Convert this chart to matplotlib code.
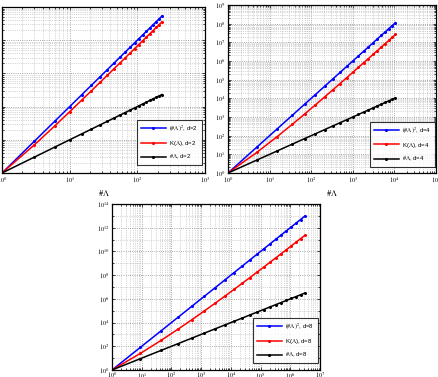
import matplotlib
matplotlib.use("Agg")
import matplotlib.pyplot as plt
from matplotlib.ticker import LogLocator, FixedLocator, NullFormatter

plt.rcParams['font.family'] = ['Liberation Serif', 'DejaVu Serif']
plt.rcParams['mathtext.fontset'] = 'stix'

# ---- data: total-degree index sets, n = 0..20 ----
nL_d2 = [1, 3, 6, 10, 15, 21, 28, 36, 45, 55, 66, 78, 91, 105, 120, 136, 153, 171, 190, 210, 231]
sq_d2 = [1, 9, 36, 100, 225, 441, 784, 1296, 2025, 3025, 4356, 6084, 8281, 11025, 14400,
         18496, 23409, 29241, 36100, 44100, 53361]
K_d2 = [1, 7, 26, 70, 155, 301, 532, 876, 1365, 2035, 2926, 4082, 5551, 7385, 9640,
        12376, 15657, 19551, 24130, 29470, 35651]

nL_d4 = [1, 5, 15, 35, 70, 126, 210, 330, 495, 715, 1001, 1365, 1820, 2380, 3060, 3876,
         4845, 5985, 7315, 8855, 10626]
sq_d4 = [1, 25, 225, 1225, 4900, 15876, 44100, 108900, 245025, 511225, 1002001, 1863225,
         3312400, 5664400, 9363600, 15023376, 23474025, 35820225, 53509225, 78411025, 112911876]
K_d4 = [1, 13, 87, 403, 1462, 4446, 11826, 28314, 62271, 127699, 246961, 454389, 800956,
        1360204, 2235636, 3569796, 5555277, 8447913, 12582427, 18390823, 26423826]

nL_d8 = [1, 9, 45, 165, 495, 1287, 3003, 6435, 12870, 24310, 43758, 75582, 125970, 203490,
         319770, 490314, 735471, 1081575, 1562275, 2220075, 3108105]
sq_d8 = [1, 81, 2025, 27225, 245025, 1656369, 9018009, 41409225, 165636900, 590976100,
         1914762564, 5712638724, 15868440900, 41408180100, 102252852900, 240407818596,
         540917591841, 1169804480625, 2440703175625, 4928733005625, 9660316691025]
K_d8 = [1, 25, 317, 2725, 17903, 96055, 439019, 1760035, 6323270, 20693590, 62483534,
        175870270, 465328658, 1165432450, 2779122362, 6341171530, 13903068911, 29397931735,
        60140278675, 119360694315, 230390244105]

labels_sq = r'$(\#\Lambda)^2$, d={}'
labels_K = r'K($\Lambda$), d={}'
labels_n = r'$\#\Lambda$, d={}'

W, H = 438, 377
fig = plt.figure(figsize=(W / 100, H / 100), dpi=100)


def px_axes(l, t, r, b):
    return fig.add_axes([l / W, (H - b) / H, (r - l) / W, (b - t) / H])


def panel(ax, x, sq, K, d, xmax, ymax, ystep, legend_anchor, xlabel=True, ylabels=True, xpad=1.8):
    kw = dict(marker='.', markersize=2.4, lw=1.1)
    ax.loglog(x, sq, color='#0000ff', label=labels_sq.format(d), **kw)
    ax.loglog(x, K, color='#ff0000', label=labels_K.format(d), **kw)
    ax.loglog(x, x, color='#000000', label=labels_n.format(d), **kw)
    ax.set_xlim(1, 10 ** xmax)
    ax.set_ylim(1, 10 ** ymax)
    ax.xaxis.set_major_locator(FixedLocator([10 ** k for k in range(xmax + 1)]))
    ax.xaxis.set_minor_locator(LogLocator(base=10, subs=range(2, 10), numticks=50))
    ax.xaxis.set_minor_formatter(NullFormatter())
    ax.set_xticklabels([r'$10^{%d}$' % k for k in range(xmax + 1)])
    ax.yaxis.set_major_locator(FixedLocator([10 ** k for k in range(0, ymax + 1, ystep)]))
    if ystep == 1:
        ax.yaxis.set_minor_locator(LogLocator(base=10, subs=range(2, 10), numticks=50))
    else:
        ax.yaxis.set_minor_locator(FixedLocator([10 ** k for k in range(1, ymax, 2)]))
    ax.yaxis.set_minor_formatter(NullFormatter())
    ax.set_yticklabels([r'$10^{%d}$' % k for k in range(0, ymax + 1, ystep)])
    ax.grid(True, which='major', linestyle=':', color='#8c8c8c', lw=0.6)
    ax.grid(True, which='minor', linestyle=':', color='#b0b0b0', lw=0.5)
    ax.tick_params(which='both', direction='in', top=True, right=True, labelsize=4.5,
                   pad=1.8, width=0.5, labelleft=ylabels)
    ax.tick_params(axis='x', which='both', pad=xpad)
    ax.tick_params(which='major', length=2.5)
    ax.tick_params(which='minor', length=1.2)
    for s in ax.spines.values():
        s.set_linewidth(0.9)
    if xlabel:
        ax.set_xlabel(r'$\#\Lambda$', fontsize=6, labelpad=2)
    leg = ax.legend(loc='lower right', bbox_to_anchor=legend_anchor, borderaxespad=0,
                    frameon=True, fancybox=False, edgecolor='black',
                    handlelength=4.2, handletextpad=0.6, labelspacing=0.9,
                    borderpad=0.6, prop={'family': ['Liberation Sans', 'DejaVu Sans'], 'size': 4.3})
    leg.get_frame().set_linewidth(0.8)


ax1 = px_axes(2, 7, 205, 173)
panel(ax1, nL_d2, sq_d2, K_d2, 2, 3, 5, 1, (0.985, 0.048), ylabels=False)

ax2 = px_axes(228, 5, 436, 173)
panel(ax2, nL_d4, sq_d4, K_d4, 4, 5, 9, 1, (0.995, 0.036))

ax3 = px_axes(112, 204, 320, 370)
panel(ax3, nL_d8, sq_d8, K_d8, 8, 7, 14, 2, (0.99, 0.042), xpad=0.6)

fig.savefig('out.png', dpi=100)
